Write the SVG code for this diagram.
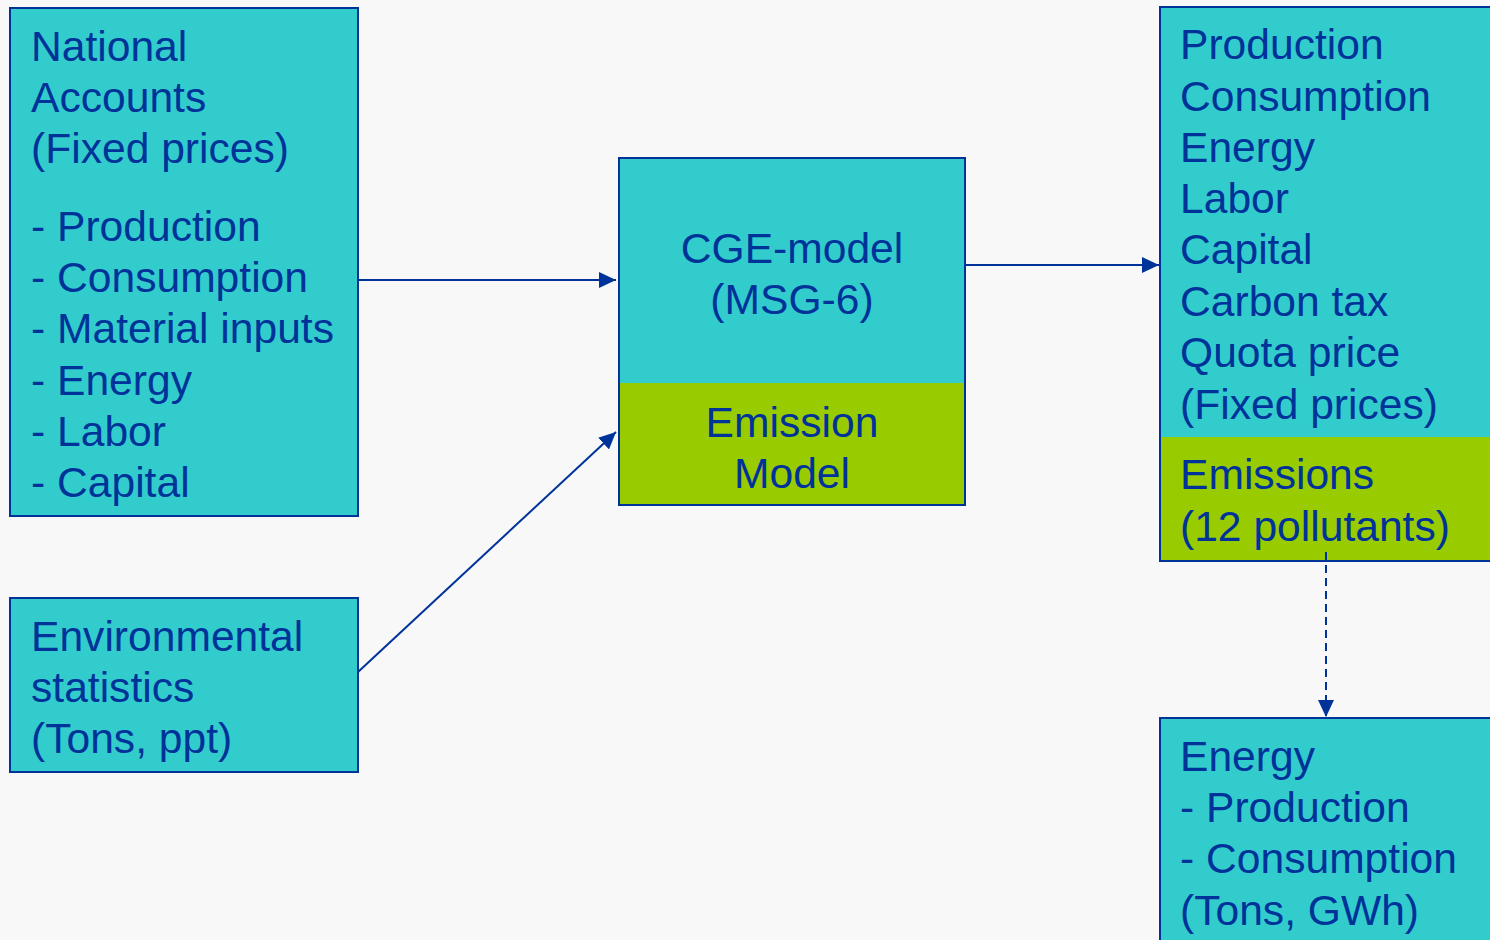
<svg xmlns="http://www.w3.org/2000/svg" width="1490" height="940" viewBox="0 0 1490 940">
<style>
.bg{fill:#f8f8f8}
.teal{fill:#33cccc}
.green{fill:#99cc00}
.bd{fill:none;stroke:#003399;stroke-width:2}
text{font-family:"Liberation Sans",Arial,sans-serif;font-size:42.6px;fill:#003399}
.c{text-anchor:middle}
.ln{stroke:#003399;stroke-width:2;fill:none}
.dash{stroke-dasharray:8,5}
</style>
<defs>
<marker id="ah" markerUnits="userSpaceOnUse" markerWidth="18" markerHeight="16" refX="17" refY="8" orient="auto">
<path d="M0,0 L17,8 L0,16 Z" fill="#003399"/>
</marker>
</defs>
<rect class="bg" x="0" y="0" width="1490" height="940"/>
<g id="national-accounts">
<rect class="teal" x="10" y="8" width="348" height="508"/>
<rect class="bd" x="10" y="8" width="348" height="508"/>
<text x="31" y="61">National</text>
<text x="31" y="112">Accounts</text>
<text x="31" y="163">(Fixed prices)</text>
<text x="31" y="241">- Production</text>
<text x="31" y="292">- Consumption</text>
<text x="31" y="343">- Material inputs</text>
<text x="31" y="395">- Energy</text>
<text x="31" y="446">- Labor</text>
<text x="31" y="497">- Capital</text>
</g>
<g id="environmental-statistics">
<rect class="teal" x="10" y="598" width="348" height="174"/>
<rect class="bd" x="10" y="598" width="348" height="174"/>
<text x="31" y="651">Environmental</text>
<text x="31" y="702">statistics</text>
<text x="31" y="753">(Tons, ppt)</text>
</g>
<g id="cge-model">
<rect class="teal" x="619" y="158" width="346" height="225"/>
<rect class="green" x="619" y="383" width="346" height="122"/>
<rect class="bd" x="619" y="158" width="346" height="347"/>
<text class="c" x="792" y="263">CGE-model</text>
<text class="c" x="792" y="314">(MSG-6)</text>
<text class="c" x="792" y="437">Emission</text>
<text class="c" x="792" y="488">Model</text>
</g>
<g id="results">
<rect class="teal" x="1160" y="7" width="335" height="430"/>
<rect class="green" x="1160" y="437" width="335" height="124"/>
<rect class="bd" x="1160" y="7" width="335" height="554"/>
<text x="1180" y="59">Production</text>
<text x="1180" y="111">Consumption</text>
<text x="1180" y="162">Energy</text>
<text x="1180" y="213">Labor</text>
<text x="1180" y="264">Capital</text>
<text x="1180" y="316">Carbon tax</text>
<text x="1180" y="367">Quota price</text>
<text x="1180" y="419">(Fixed prices)</text>
<text x="1180" y="489">Emissions</text>
<text x="1180" y="541">(12 pollutants)</text>
</g>
<g id="energy">
<rect class="teal" x="1160" y="718" width="335" height="230"/>
<rect class="bd" x="1160" y="718" width="335" height="230"/>
<text x="1180" y="771">Energy</text>
<text x="1180" y="822">- Production</text>
<text x="1180" y="873">- Consumption</text>
<text x="1180" y="925">(Tons, GWh)</text>
</g>
<g id="connectors">
<line class="ln" x1="358" y1="280" x2="616" y2="280" marker-end="url(#ah)"/>
<line class="ln" x1="358" y1="672" x2="616" y2="432" marker-end="url(#ah)"/>
<line class="ln" x1="965" y1="265" x2="1159" y2="265" marker-end="url(#ah)"/>
<line class="ln dash" x1="1326" y1="552" x2="1326" y2="717" marker-end="url(#ah)"/>
</g>
</svg>
